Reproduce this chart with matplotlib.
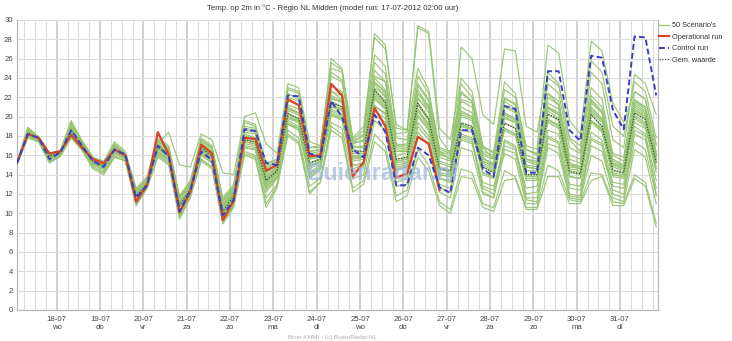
import matplotlib
matplotlib.use("Agg")
import matplotlib.pyplot as plt
from matplotlib.lines import Line2D

plt.rcParams['font.family'] = ['Liberation Sans', 'DejaVu Sans']

# ---- data ----
title = "Temp. op 2m in °C - Regio NL Midden (model run: 17-07-2012 02:00 uur)"
day_labels = ["18-07\nwo", "19-07\ndo", "20-07\nvr", "21-07\nza", "22-07\nzo", "23-07\nma", "24-07\ndi",
              "25-07\nwo", "26-07\ndo", "27-07\nvr", "28-07\nza", "29-07\nzo", "30-07\nma", "31-07\ndi"]
# hours since 17-07 00:00, 6-hourly steps from 02:00
hours = [2 + 6 * k for k in range(60)]

operational = [15.2, 18.2, 17.8, 16.2, 16.4, 18.1, 16.8, 15.6, 15.2, 16.6,
               16.0, 11.2, 12.9, 18.4, 16.1, 10.1, 12.2, 17.1, 16.2, 9.3,
               11.3, 17.8, 17.7, 14.4, 15.0, 21.8, 21.2, 15.9, 16.0, 23.4,
               22.2, 13.8, 15.3, 20.9, 19.0, 13.7, 14.1, 17.9, 17.2, 12.4]

control = [15.2, 18.2, 17.8, 15.6, 16.3, 18.6, 17.0, 15.4, 14.8, 16.6,
           16.1, 11.6, 12.9, 17.0, 15.9, 10.2, 12.4, 16.4, 15.5, 9.8,
           11.4, 18.7, 18.5, 15.2, 15.0, 22.2, 22.1, 16.2, 15.8, 21.6,
           20.0, 16.6, 15.8, 20.2, 18.4, 12.9, 12.9, 16.8, 16.0, 12.7,
           12.1, 18.6, 18.6, 14.6, 13.8, 21.1, 20.8, 14.2, 14.2, 24.7,
           24.7, 18.6, 17.5, 26.3, 26.1, 20.7, 18.7, 28.3, 28.2, 22.2]

mean_value = [15.2, 18.3, 17.7, 15.9, 16.3, 18.6, 17.0, 15.4, 14.9, 16.6,
              15.9, 11.8, 13.1, 16.9, 16.0, 10.8, 12.5, 16.8, 15.9, 10.2,
              11.8, 17.6, 17.4, 13.4, 14.4, 20.3, 19.8, 15.2, 15.6, 21.5,
              21.0, 16.4, 16.4, 22.8, 21.5, 15.6, 15.8, 21.4, 19.8, 14.6,
              14.4, 19.3, 19.0, 14.8, 14.2, 19.3, 18.8, 14.0, 14.0, 20.3,
              19.7, 14.3, 14.1, 20.2, 19.0, 14.5, 14.2, 20.4, 19.7, 15.3]

scenarios = [
    [15.2,18.6,17.9,16.1,16.4,19.2,17.4,15.6,15.2,17.0,16.2,12.4,13.5,
     17.4,16.6,11.6,13.0,17.6,16.8,11.4,12.6,18.8,18.6,14.6,15.4,22.4,21.8,16.4,16.6,
     24.2,23.6,17.4,18.2,28.6,27.4,18.8,18.6,29.2,28.6,17.8,16.2,23.4,22.0,16.8,15.6,21.0,20.4,15.4,15.0,22.4,21.2,15.2,14.8,21.8,20.6,15.6,15.0,21.6,21.0,16.4],
    [15.1,17.9,17.4,15.4,16.0,18.0,16.6,14.8,14.2,16.0,15.4,11.0,12.6,
     16.0,15.2,9.6,11.8,15.6,14.8,9.0,10.8,16.4,16.0,11.6,13.0,18.6,17.8,12.8,13.6,
     19.0,18.2,12.6,13.4,18.2,17.0,11.8,12.4,16.6,15.0,11.2,10.4,14.6,14.2,11.0,10.6,14.4,13.8,10.6,10.6,15.0,14.4,11.4,11.2,14.2,14.0,11.2,11.0,14.0,13.2,9.0],
    [15.3,18.5,17.8,16.0,16.4,18.9,17.2,15.6,15.0,16.8,16.0,12.0,13.2,
     17.2,16.2,11.0,12.8,17.0,16.2,10.6,12.2,18.2,17.8,14.0,14.8,21.0,20.4,15.8,16.0,
     22.6,21.8,17.0,16.8,24.0,22.8,16.6,16.4,22.8,21.0,16.2,15.6,27.2,26.0,20.2,19.2,27.0,26.8,19.0,18.4,24.6,23.4,17.6,16.4,23.0,21.8,16.0,15.4,21.4,20.6,16.0],
    [15.2,18.4,17.7,16.0,16.3,18.7,17.1,15.5,15.0,16.7,16.0,12.0,13.2,
     17.0,16.2,11.0,12.6,17.0,16.0,10.4,12.0,17.8,17.6,13.6,14.6,20.6,20.2,15.6,15.8,
     22.0,21.4,16.6,16.4,23.4,22.0,16.0,16.2,22.0,20.4,15.2,14.8,20.0,19.6,15.2,14.6,20.2,19.6,14.4,14.4,21.0,20.4,14.8,14.6,21.0,19.8,15.0,14.6,21.2,20.4,16.0],
    [15.2,18.2,17.6,15.8,16.2,18.4,16.9,15.3,14.8,16.5,15.8,11.6,13.0,
     16.7,15.8,10.6,12.3,16.6,15.7,10.0,11.6,17.4,17.2,13.2,14.2,20.0,19.4,14.8,15.4,
     21.0,20.6,15.8,15.8,22.2,21.0,15.2,15.4,20.8,19.2,14.0,13.8,18.6,18.4,14.2,13.8,18.6,18.0,13.6,13.6,19.6,19.0,13.8,13.6,19.4,18.4,14.0,13.8,19.8,19.0,14.6],
    [15.2,18.3,17.8,15.9,16.2,18.6,17.0,15.4,14.8,16.6,15.9,11.8,13.0,
     16.8,16.0,10.9,12.6,16.8,16.0,10.2,11.8,17.6,17.4,13.4,14.4,20.4,19.8,15.2,15.6,
     21.6,21.0,16.0,16.0,22.6,21.4,15.4,15.6,21.2,19.6,14.6,14.2,19.0,18.8,15.0,14.4,21.6,20.8,15.6,15.4,23.4,22.4,16.8,16.2,24.6,23.4,17.6,16.8,24.4,23.4,20.2],
    [15.2,18.7,17.9,16.2,16.5,19.6,17.5,15.8,15.4,17.4,16.4,12.6,13.8,
     17.8,17.0,11.8,13.4,17.8,17.0,11.6,13.0,19.6,19.2,15.0,15.6,22.8,22.4,16.8,16.8,
     25.0,24.6,17.8,19.0,28.2,27.0,19.2,18.6,25.0,22.8,16.4,15.6,21.0,20.4,15.8,15.0,19.8,19.4,14.8,14.6,20.6,19.8,14.6,14.4,20.4,19.4,14.8,14.4,20.8,20.0,15.6],
    [15.1,18.0,17.5,15.4,16.0,18.2,16.7,15.0,14.4,16.2,15.6,11.2,12.8,
     16.2,15.4,10.0,12.0,16.0,15.2,9.4,11.0,16.8,16.6,12.4,13.6,19.2,18.6,13.8,14.6,
     20.2,19.6,14.6,15.0,20.6,19.8,13.6,14.2,19.4,18.0,13.0,12.6,17.6,17.2,12.8,12.4,17.4,16.8,12.0,12.2,18.0,17.4,12.6,12.4,17.6,17.0,12.8,12.6,18.2,17.6,12.6],
    [15.2,18.4,17.8,16.1,16.4,18.8,17.2,15.6,15.1,16.8,16.0,12.0,13.2,
     17.0,16.1,11.0,12.8,17.2,16.4,10.8,12.2,18.0,17.8,13.6,14.6,20.8,20.4,15.6,16.0,
     21.8,21.6,16.8,17.0,23.0,22.2,16.8,16.6,21.8,20.8,15.8,15.4,21.8,21.4,16.4,16.0,22.8,22.0,17.0,16.6,27.4,26.6,19.6,18.2,27.8,26.8,21.4,19.4,22.6,21.8,17.2],
    [15.2,18.1,17.6,15.6,16.1,18.3,16.8,15.1,14.6,16.4,15.7,11.4,12.9,
     16.4,15.6,10.3,12.2,16.4,15.4,9.8,11.4,17.0,16.8,12.8,13.8,19.6,19.0,14.2,15.0,
     20.6,20.0,15.0,15.2,21.0,20.4,14.6,14.8,20.0,18.6,13.6,13.2,17.8,17.4,13.2,12.8,17.0,16.6,12.6,12.8,18.6,18.2,13.0,12.8,18.4,17.6,13.2,13.0,19.0,18.2,13.4],
    [15.3,18.9,17.9,16.2,16.5,19.4,17.5,15.8,15.2,17.2,16.2,12.4,13.6,
     17.6,16.8,11.6,13.2,17.6,16.8,11.2,12.6,19.0,18.8,14.8,15.4,22.0,21.6,16.4,16.6,
     26.0,25.0,17.6,18.6,26.4,25.2,17.8,17.6,24.2,22.4,16.8,16.4,22.6,21.6,16.0,15.6,21.2,20.6,15.6,15.2,21.0,20.2,15.2,14.8,20.8,19.8,15.2,14.8,21.0,20.2,15.8],
    [15.2,18.0,17.6,15.6,16.1,18.2,16.8,15.1,14.6,16.3,15.6,11.2,12.8,
     16.2,15.6,10.2,12.2,16.2,15.2,9.6,11.2,16.8,16.6,12.6,13.8,19.4,18.8,14.0,14.8,
     20.2,19.8,15.0,15.0,21.2,20.2,14.4,14.8,20.2,18.8,13.6,13.4,18.2,17.8,12.6,12.0,16.2,15.6,11.0,11.0,16.8,16.2,11.6,11.4,16.0,15.4,11.6,11.2,16.6,15.8,11.0],
    [15.2,18.5,17.8,16.0,16.4,18.9,17.2,15.5,15.0,16.8,16.0,12.0,13.2,
     17.2,16.4,11.2,12.8,17.2,16.4,10.8,12.4,18.4,18.2,14.2,15.0,21.2,20.8,16.0,16.2,
     22.6,22.2,17.2,17.6,24.2,23.6,18.2,18.4,29.4,28.8,18.8,17.6,24.0,22.6,17.0,16.2,20.4,19.8,15.0,14.8,20.8,20.2,15.0,14.6,20.6,19.6,15.0,14.6,20.6,20.0,15.4],
    [15.1,17.8,17.4,15.2,15.9,17.8,16.5,14.6,14.0,15.8,15.4,10.8,12.6,
     15.8,15.0,9.4,11.6,15.4,14.6,8.9,10.6,16.2,15.8,11.0,12.8,18.0,17.2,12.2,13.2,
     18.6,17.8,12.2,13.0,17.4,16.4,11.2,11.8,15.8,14.4,10.8,10.0,13.8,13.6,10.6,10.2,13.4,13.6,10.4,10.4,13.8,13.8,11.0,11.0,13.4,13.8,10.8,10.8,13.6,12.8,8.6],
    [15.2,18.6,17.8,16.0,16.4,19.0,17.3,15.6,15.1,17.0,16.1,12.2,13.4,
     17.4,16.6,11.4,13.0,17.4,16.6,11.0,12.4,18.6,18.4,14.4,15.2,21.6,21.2,16.2,16.4,
     23.2,22.6,17.4,17.4,24.8,23.6,17.2,17.0,23.2,21.6,16.0,15.8,21.6,21.0,16.2,15.8,22.0,21.2,16.0,15.6,22.4,21.6,16.0,15.6,22.2,21.0,16.2,15.8,22.6,21.8,17.0],
    [15.2,18.3,17.7,15.9,16.3,18.5,17.0,15.4,14.9,16.6,15.9,11.8,13.1,
     16.9,16.0,10.8,12.5,16.8,15.8,10.2,11.8,17.6,17.4,13.4,14.4,20.2,19.8,15.2,15.6,
     21.4,21.0,16.2,16.2,22.8,21.6,15.6,15.8,21.4,19.8,14.6,14.4,19.4,19.0,14.8,14.2,19.4,18.8,14.0,14.0,20.2,19.6,14.4,14.2,20.2,19.0,14.4,14.2,20.4,19.8,15.2],
    [15.2,18.4,17.8,16.0,16.4,18.8,17.1,15.5,15.0,16.7,16.0,12.0,13.2,
     17.2,18.4,15.0,14.8,18.2,17.6,14.2,14.0,20.0,20.4,17.2,16.2,23.4,23.0,17.4,17.0,
     24.6,23.8,17.2,17.6,23.6,22.6,17.0,16.8,22.4,21.2,16.4,16.0,20.6,20.0,15.6,15.2,20.0,19.4,14.8,14.6,19.6,19.2,14.2,14.0,19.6,18.8,14.2,14.0,19.4,18.8,14.6],
    [15.2,18.2,17.6,15.7,16.2,18.4,16.9,15.2,14.7,16.5,15.8,11.6,13.0,
     16.6,15.8,10.6,12.4,16.6,15.6,10.0,11.6,17.2,17.0,12.8,14.0,19.8,19.4,14.6,15.2,
     20.8,20.2,15.4,15.6,21.8,20.8,14.8,15.0,20.6,19.2,14.0,13.8,19.0,18.6,14.0,13.6,18.8,18.2,13.4,13.4,19.8,19.0,13.8,13.6,19.6,18.6,13.8,13.6,20.0,19.2,14.2],
    [15.2,18.3,17.7,15.8,16.3,18.5,17.0,15.4,14.9,16.6,15.9,11.8,13.0,
     16.8,15.9,10.6,12.4,16.6,15.8,10.0,11.6,17.4,17.2,13.0,14.2,20.0,19.6,15.0,15.4,
     21.2,20.8,15.8,16.0,22.4,21.2,15.4,15.6,21.2,19.8,14.8,14.4,20.4,20.0,15.4,15.0,21.8,21.4,16.6,16.2,24.0,23.2,17.8,17.0,25.8,24.6,19.0,18.0,23.6,22.6,17.8],
    [15.2,18.1,17.6,15.6,16.1,18.3,16.8,15.2,14.7,16.4,15.7,11.4,12.9,
     16.4,15.6,10.2,12.0,16.2,15.4,9.6,11.2,16.8,16.6,12.2,13.6,19.2,18.8,13.6,14.6,
     20.4,19.8,14.2,14.8,20.2,19.4,13.2,13.6,19.0,17.6,12.6,12.2,18.0,17.6,12.2,11.6,17.6,17.0,11.4,11.2,17.8,17.2,11.8,11.6,17.8,17.2,12.0,11.6,18.6,18.0,12.0],
    [15.3,18.8,17.9,16.2,16.5,19.3,17.4,15.7,15.2,17.1,16.2,12.4,13.6,
     17.6,16.8,11.6,13.2,17.6,16.8,11.4,12.8,19.4,19.0,15.2,15.6,23.0,22.6,16.8,17.0,
     25.6,24.8,17.4,18.0,25.6,24.4,17.0,17.2,23.4,21.8,16.6,16.2,22.4,21.6,16.8,16.4,23.6,22.4,16.6,16.0,22.0,21.2,15.6,15.2,21.4,20.4,15.4,15.0,21.6,20.8,16.2],
    [15.2,18.2,17.6,15.8,16.2,18.4,16.9,15.3,14.8,16.5,15.8,11.7,13.0,
     16.7,15.9,10.7,12.4,16.6,15.7,10.1,11.7,17.4,17.2,13.2,14.2,20.0,19.6,14.8,15.4,
     21.2,20.6,15.6,15.8,22.0,20.8,15.0,15.2,20.6,19.0,14.2,14.0,19.2,18.8,14.2,13.8,18.8,18.2,13.8,13.8,19.4,18.8,13.8,13.6,19.6,18.6,14.0,13.8,20.2,19.4,14.8],
    [15.2,18.5,17.8,16.0,16.4,18.8,17.2,15.6,15.0,16.8,16.0,12.0,13.2,
     17.0,16.2,11.0,12.7,17.0,16.2,10.6,12.0,18.0,17.8,13.8,14.8,20.8,20.4,15.8,16.0,
     22.2,21.6,16.8,16.8,23.6,22.4,16.4,16.4,22.4,20.8,15.4,15.0,20.2,19.8,15.4,14.8,20.4,19.8,14.8,14.6,21.4,20.8,15.0,14.8,21.6,20.4,15.2,14.8,21.8,21.0,16.0],
    [15.1,17.9,17.4,15.3,15.9,17.9,16.6,14.8,14.2,15.9,15.4,10.9,12.6,
     16.0,15.2,9.8,11.8,15.6,14.8,9.2,10.8,16.0,15.6,10.6,12.6,18.2,17.4,12.0,13.2,
     19.4,18.8,13.6,14.0,19.6,18.6,12.8,13.0,18.4,17.0,12.2,11.6,16.8,16.4,12.0,11.6,16.6,16.2,11.6,11.6,17.2,16.8,12.0,11.8,17.0,16.4,12.4,12.0,17.4,16.6,11.8],
]

for i, s in enumerate(scenarios):
    assert len(s) == len(hours), (i, len(s))

# ---- figure ----
fig = plt.figure(figsize=(7.32, 3.41), dpi=100)
ax = fig.add_axes([17/732, 1 - 310/341, (658-17)/732, (310-20)/341])

green = '#96c472'
for s in scenarios:
    ax.plot(hours, s, color=green, lw=0.85, alpha=0.95, zorder=2)

ax.plot(hours, mean_value, color='#3d4a2a', lw=0.9, ls=(0, (1, 1.2)), zorder=3)
ax.plot(hours[:len(operational)], operational, color='#d8432a', lw=1.6, zorder=4)
ax.plot(hours, control, color='#3a3fc4', lw=1.4, ls=(0, (3, 1.6)), zorder=5)

ax.set_xlim(2, 357)
ax.set_ylim(0, 30)
ax.set_yticks(range(0, 31, 2))
ax.set_xticks([24 * d for d in range(1, 15)])
ax.set_xticklabels(day_labels)
ax.set_xticks([6 * h for h in range(1, 60)], minor=True)

ax.grid(which='major', axis='y', color='#dcdcdc', lw=0.8, zorder=0)
ax.grid(which='minor', axis='x', color='#dcdcdc', lw=0.8, zorder=0)
ax.grid(which='major', axis='x', color='#c4c4c4', lw=1.1, zorder=0)
ax.set_axisbelow(True)

ax.tick_params(axis='both', which='both', length=0, labelsize=5.6, colors='#444444')
ax.tick_params(axis='y', pad=3)
ax.tick_params(axis='x', pad=4)
for sp in ax.spines.values():
    sp.set_color('#b8b8b8')
    sp.set_linewidth(0.9)
ax.spines['top'].set_visible(False)

fig.text(333/732, 1 - 8/341, title, ha='center', va='center', fontsize=5.6, color='#333333')
fig.text(333/732, 1 - 337/341, "Bron KNMI - (c) BuienRadar.NL", ha='center', va='center',
         fontsize=4.6, color='#b0b0b0')

ax.text(0.57, 0.47, "Buienradar.nl", transform=ax.transAxes, ha='center', va='center',
        fontsize=17, fontweight='bold', color='#9fb6da', alpha=0.7, zorder=6)

handles = [Line2D([], [], color=green, lw=0.9),
           Line2D([], [], color='#d8432a', lw=1.6),
           Line2D([], [], color='#3a3fc4', lw=1.4, ls=(0, (3, 1.6))),
           Line2D([], [], color='#3d4a2a', lw=0.9, ls=(0, (1, 1.2)))]
labels = ["50 Scenario's", "Operational run", "Control run", "Gem. waarde"]
fig.legend(handles, labels, loc='upper left', bbox_to_anchor=(659/732, 1 - 22/341),
           frameon=False, fontsize=5.3, handlelength=1.4, handletextpad=0.4,
           labelspacing=0.6, borderaxespad=0, borderpad=0, labelcolor='#333333')

fig.savefig('out.png', dpi=100)
